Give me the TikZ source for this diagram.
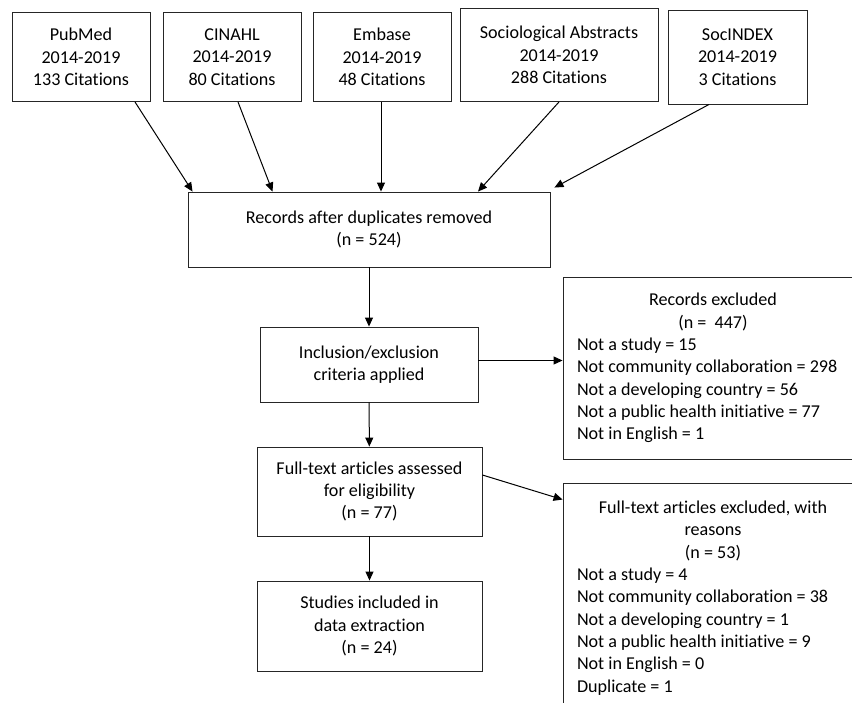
\documentclass[tikz,border=0pt]{standalone}
\usepackage{fontspec}
\setmainfont{Carlito}[Ligatures=NoCommon]
\usetikzlibrary{arrows.meta}

\tikzset{
  box/.style={draw=black!85, line width=0.9pt, align=flush center, inner sep=0pt,
    font=\fontsize{18.1pt}{22.3pt}\selectfont},
  listbox/.style={box, align=flush left, text width=272pt, inner xsep=14pt,
    minimum width=300pt},
  arr/.style={line width=1pt, -{Triangle[length=9pt,width=8pt]}}
}

\begin{document}
\begin{tikzpicture}[x=1pt, y=-1pt]

\useasboundingbox (0,0) rectangle (852,702);

% databases
\node[box, minimum width=138pt, minimum height=89pt] (pubmed) at (81,57)
  {PubMed\\2014-2019\\133 Citations};
\node[box, minimum width=138pt, minimum height=89pt] (cinahl) at (232,57)
  {CINAHL\\2014-2019\\80 Citations};
\node[box, minimum width=138pt, minimum height=89pt] (embase) at (382,57)
  {Embase\\2014-2019\\48 Citations};
\node[box, minimum width=198pt, minimum height=93pt] (socabs) at (559,55)
  {Sociological Abstracts\\2014-2019\\288 Citations};
\node[box, minimum width=139pt, minimum height=94pt] (socindex) at (737.5,57)
  {SocINDEX\\2014-2019\\3 Citations};

% main column
\node[box, minimum width=362pt, minimum height=75pt] (records) at (369,229.5)
  {Records after duplicates removed\\(n = 524)};
\node[box, minimum width=218pt, minimum height=75pt] (criteria) at (369,364.5)
  {Inclusion/exclusion\\criteria applied};
\node[box, minimum width=225pt, minimum height=89pt] (fulltext) at (369.5,491.5)
  {Full-text articles assessed\\for eligibility\\(n = 77)};
\node[box, minimum width=225pt, minimum height=90pt] (studies) at (369.5,626)
  {Studies included in\\data extraction\\(n = 24)};

% exclusions
\node[listbox, minimum height=182pt] (recexcl) at (713,368)
  {{\centering Records excluded\\(n = \ 447)\par}%
   Not a study = 15\\
   Not community collaboration = 298\\
   Not a developing country = 56\\
   Not a public health initiative = 77\\
   Not in English = 1};
\node[listbox, minimum height=230pt] (ftexcl) at (713,598)
  {{\centering Full-text articles excluded, with\\reasons\\(n = 53)\par}%
   Not a study = 4\\
   Not community collaboration = 38\\
   Not a developing country = 1\\
   Not a public health initiative = 9\\
   Not in English = 0\\
   Duplicate = 1};

\draw[arr] ([xshift=54pt]pubmed.south) -- ([xshift=5pt]records.north west);
\draw[arr] ([xshift=6pt]cinahl.south) -- ([xshift=85pt]records.north west);
\draw[arr] ([xshift=-1pt]embase.south) -- ([xshift=-1pt]embase.south |- records.north);
\draw[arr] (socabs.south) -- ([xshift=109pt]records.north);
\draw[arr] ([xshift=-28.5pt]socindex.south) -- ([xshift=4pt,yshift=4pt]records.north east);

\draw[arr] (records) -- (criteria);
\draw[arr] ([yshift=4pt]criteria.east) -- ([yshift=4pt]criteria.east -| recexcl.west);
\draw[arr] (criteria) -- (fulltext);
\draw[arr] ([yshift=16.5pt]fulltext.east) -- ([yshift=-17pt]ftexcl.north west);
\draw[arr] (fulltext) -- (studies);

\end{tikzpicture}
\end{document}
